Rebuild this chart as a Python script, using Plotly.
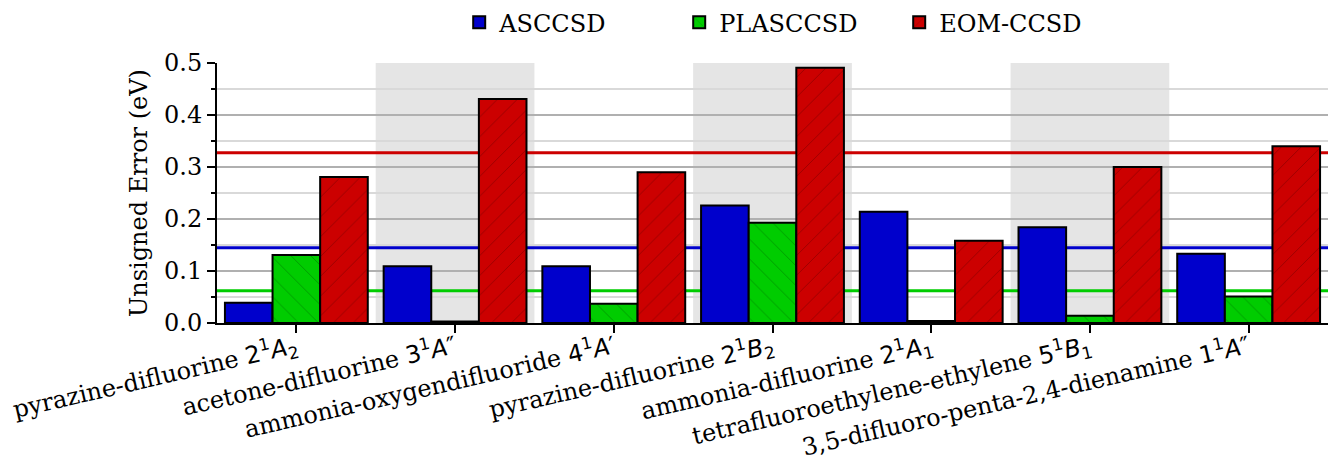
import plotly.graph_objects as go

# ---- data ----
labels = [
    'pyrazine-difluorine <span style="font-family:DejaVu Sans">2<sup>1</sup><i>A</i><sub>2</sub></span>',
    'acetone-difluorine <span style="font-family:DejaVu Sans">3<sup>1</sup><i>A</i>\u2033</span>',
    'ammonia-oxygendifluoride <span style="font-family:DejaVu Sans">4<sup>1</sup><i>A</i>\u2032</span>',
    'pyrazine-difluorine <span style="font-family:DejaVu Sans">2<sup>1</sup><i>B</i><sub>2</sub></span>',
    'ammonia-difluorine <span style="font-family:DejaVu Sans">2<sup>1</sup><i>A</i><sub>1</sub></span>',
    'tetrafluoroethylene-ethylene <span style="font-family:DejaVu Sans">5<sup>1</sup><i>B</i><sub>1</sub></span>',
    '3,5-difluoro-penta-2,4-dienamine <span style="font-family:DejaVu Sans">1<sup>1</sup><i>A</i>\u2033</span>',
]
asccsd = [0.039, 0.109, 0.109, 0.226, 0.214, 0.184, 0.133]
plasccsd = [0.131, 0.003, 0.037, 0.193, 0.004, 0.014, 0.051]
eomccsd = [0.281, 0.431, 0.290, 0.491, 0.158, 0.300, 0.340]
series_names = ["ASCCSD", "PLASCCSD", "EOM-CCSD"]
y_ticks = [0.0, 0.1, 0.2, 0.3, 0.4, 0.5]

colors = ["#0000cc", "#00cc00", "#cc0000"]
patterns = ["", "\\", "/"]
xpos = list(range(len(labels)))
FONT = "DejaVu Serif"
FS = 24

fig = go.Figure()
for name, vals, col, pat in zip(series_names, [asccsd, plasccsd, eomccsd], colors, patterns):
    fig.add_trace(go.Bar(
        x=xpos, y=vals, name=name,
        marker=dict(color=col, line=dict(color="black", width=2),
                    pattern=dict(shape=pat, fillmode="overlay",
                                 fgcolor="rgba(0,0,0,0.45)", size=14, solidity=0.07)),
    ))

# alternating shaded bands
for i in xpos:
    if i % 2 == 1:
        fig.add_shape(type="rect", xref="x", yref="paper", x0=i - 0.5, x1=i + 0.5,
                      y0=0, y1=1, fillcolor="#e5e5e5", line_width=0, layer="below")

# mean lines
for vals, col in zip([asccsd, plasccsd, eomccsd], colors):
    m = sum(vals) / len(vals)
    fig.add_shape(type="line", xref="paper", yref="y", x0=0, x1=1, y0=m, y1=m,
                  line=dict(color=col, width=3), layer="between")

fig.update_layout(
    width=1328, height=458,
    margin=dict(l=217, r=0, t=59, b=135),
    plot_bgcolor="white", paper_bgcolor="white",
    font=dict(family=FONT, size=FS, color="black"),
    barmode="group", bargap=0.1, bargroupgap=0,
    showlegend=True,
    legend=dict(orientation="h", x=0.218, xanchor="left", y=1.155, yanchor="middle",
                font=dict(family=FONT, size=FS), entrywidth=175, entrywidthmode="pixels",
                bgcolor="rgba(0,0,0,0)"),
)
fig.update_xaxes(
    range=[-0.5, len(labels) - 0.5], tickmode="array", tickvals=xpos, ticktext=labels,
    tickangle=-13, ticks="outside", ticklen=8, tickwidth=1.5, tickcolor="black",
    showline=True, linecolor="black", linewidth=2, showgrid=False, zeroline=False,
    tickfont=dict(family=FONT, size=FS), automargin=False, ticklabelstandoff=-9,
)
fig.update_yaxes(
    range=[0, 0.5], tickmode="array", tickvals=y_ticks, ticktext=[f"{v:.1f}" for v in y_ticks],
    ticks="outside", ticklen=8, tickwidth=1.5, tickcolor="black",
    showline=True, linecolor="black", linewidth=2, zeroline=False,
    showgrid=True, gridcolor="#b0b0b0", gridwidth=2,
    minor=dict(dtick=0.05, tick0=0, ticks="outside", ticklen=4, tickcolor="black",
               showgrid=True, gridcolor="#d9d9d9", gridwidth=1.5),
    title=dict(text="Unsigned Error (eV)", font=dict(family=FONT, size=FS), standoff=10),
    tickfont=dict(family=FONT, size=FS), automargin=False,
)

fig.write_html("out.html")
